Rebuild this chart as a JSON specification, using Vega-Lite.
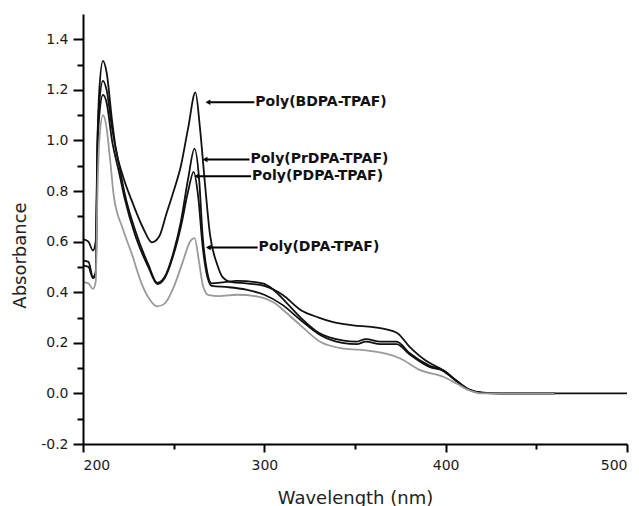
{
  "$schema": "https://vega.github.io/schema/vega-lite/v6.json",
  "autosize": {"type": "none"},
  "padding": {"left": 83, "top": 14, "right": 12, "bottom": 62},
  "width": 544,
  "height": 430,
  "background": "white",
  "config": {
    "view": {"stroke": null},
    "font": "DejaVu Sans",
    "axis": {
      "grid": false,
      "domainColor": "#000",
      "domainWidth": 2,
      "tickColor": "#000",
      "tickWidth": 2,
      "labelFont": "DejaVu Sans",
      "labelFontSize": 14,
      "labelColor": "#1a1a1a",
      "titleFont": "DejaVu Sans",
      "titleFontSize": 18,
      "titleFontWeight": "normal",
      "titleColor": "#222"
    }
  },
  "datasets": {
    "spectra": [
      {"series": "BDPA", "nm": 200, "abs": 0.61},
      {"series": "BDPA", "nm": 203, "abs": 0.6},
      {"series": "BDPA", "nm": 205.5, "abs": 0.565},
      {"series": "BDPA", "nm": 207, "abs": 0.6},
      {"series": "BDPA", "nm": 208, "abs": 1.0},
      {"series": "BDPA", "nm": 209, "abs": 1.2},
      {"series": "BDPA", "nm": 211, "abs": 1.315},
      {"series": "BDPA", "nm": 213, "abs": 1.27},
      {"series": "BDPA", "nm": 216, "abs": 1.08},
      {"series": "BDPA", "nm": 218, "abs": 0.97},
      {"series": "BDPA", "nm": 222, "abs": 0.86},
      {"series": "BDPA", "nm": 227, "abs": 0.76},
      {"series": "BDPA", "nm": 233, "abs": 0.656},
      {"series": "BDPA", "nm": 238, "abs": 0.597},
      {"series": "BDPA", "nm": 242, "abs": 0.62},
      {"series": "BDPA", "nm": 246, "abs": 0.71},
      {"series": "BDPA", "nm": 250, "abs": 0.8},
      {"series": "BDPA", "nm": 254, "abs": 0.9},
      {"series": "BDPA", "nm": 258, "abs": 1.05},
      {"series": "BDPA", "nm": 262, "abs": 1.19},
      {"series": "BDPA", "nm": 264.5, "abs": 1.05},
      {"series": "BDPA", "nm": 267, "abs": 0.85},
      {"series": "BDPA", "nm": 270, "abs": 0.63},
      {"series": "BDPA", "nm": 274, "abs": 0.51},
      {"series": "BDPA", "nm": 277, "abs": 0.46},
      {"series": "BDPA", "nm": 282, "abs": 0.44},
      {"series": "BDPA", "nm": 290, "abs": 0.435},
      {"series": "BDPA", "nm": 300, "abs": 0.425},
      {"series": "BDPA", "nm": 310, "abs": 0.39},
      {"series": "BDPA", "nm": 320, "abs": 0.33},
      {"series": "BDPA", "nm": 330, "abs": 0.3},
      {"series": "BDPA", "nm": 338, "abs": 0.282},
      {"series": "BDPA", "nm": 349, "abs": 0.269},
      {"series": "BDPA", "nm": 360, "abs": 0.262},
      {"series": "BDPA", "nm": 373, "abs": 0.24},
      {"series": "BDPA", "nm": 380, "abs": 0.185},
      {"series": "BDPA", "nm": 389, "abs": 0.13},
      {"series": "BDPA", "nm": 397, "abs": 0.098},
      {"series": "BDPA", "nm": 406, "abs": 0.05},
      {"series": "BDPA", "nm": 413, "abs": 0.015},
      {"series": "BDPA", "nm": 420, "abs": 0.003},
      {"series": "BDPA", "nm": 430, "abs": 0},
      {"series": "BDPA", "nm": 500, "abs": 0},

      {"series": "PrDPA", "nm": 200, "abs": 0.525},
      {"series": "PrDPA", "nm": 203, "abs": 0.52},
      {"series": "PrDPA", "nm": 205.5, "abs": 0.46},
      {"series": "PrDPA", "nm": 207, "abs": 0.48},
      {"series": "PrDPA", "nm": 208, "abs": 1.0},
      {"series": "PrDPA", "nm": 209, "abs": 1.15},
      {"series": "PrDPA", "nm": 211, "abs": 1.236},
      {"series": "PrDPA", "nm": 213, "abs": 1.2},
      {"series": "PrDPA", "nm": 216, "abs": 1.05},
      {"series": "PrDPA", "nm": 220, "abs": 0.9},
      {"series": "PrDPA", "nm": 223, "abs": 0.79},
      {"series": "PrDPA", "nm": 229, "abs": 0.64},
      {"series": "PrDPA", "nm": 236, "abs": 0.51},
      {"series": "PrDPA", "nm": 241, "abs": 0.437},
      {"series": "PrDPA", "nm": 245, "abs": 0.46},
      {"series": "PrDPA", "nm": 250, "abs": 0.56},
      {"series": "PrDPA", "nm": 254, "abs": 0.68},
      {"series": "PrDPA", "nm": 258, "abs": 0.85},
      {"series": "PrDPA", "nm": 261.5, "abs": 0.968},
      {"series": "PrDPA", "nm": 264, "abs": 0.85},
      {"series": "PrDPA", "nm": 266, "abs": 0.62},
      {"series": "PrDPA", "nm": 268, "abs": 0.5},
      {"series": "PrDPA", "nm": 271, "abs": 0.435},
      {"series": "PrDPA", "nm": 278, "abs": 0.44},
      {"series": "PrDPA", "nm": 285, "abs": 0.445},
      {"series": "PrDPA", "nm": 295, "abs": 0.44},
      {"series": "PrDPA", "nm": 300, "abs": 0.433},
      {"series": "PrDPA", "nm": 305, "abs": 0.41},
      {"series": "PrDPA", "nm": 312, "abs": 0.36},
      {"series": "PrDPA", "nm": 320, "abs": 0.3},
      {"series": "PrDPA", "nm": 330, "abs": 0.24},
      {"series": "PrDPA", "nm": 343, "abs": 0.21},
      {"series": "PrDPA", "nm": 351, "abs": 0.205},
      {"series": "PrDPA", "nm": 356, "abs": 0.215},
      {"series": "PrDPA", "nm": 364, "abs": 0.205},
      {"series": "PrDPA", "nm": 373, "abs": 0.205},
      {"series": "PrDPA", "nm": 380, "abs": 0.16},
      {"series": "PrDPA", "nm": 391, "abs": 0.11},
      {"series": "PrDPA", "nm": 399, "abs": 0.09},
      {"series": "PrDPA", "nm": 406, "abs": 0.05},
      {"series": "PrDPA", "nm": 413, "abs": 0.015},
      {"series": "PrDPA", "nm": 420, "abs": 0.003},
      {"series": "PrDPA", "nm": 430, "abs": 0},
      {"series": "PrDPA", "nm": 460, "abs": 0},

      {"series": "PDPA", "nm": 200, "abs": 0.505},
      {"series": "PDPA", "nm": 203, "abs": 0.5},
      {"series": "PDPA", "nm": 205.5, "abs": 0.455},
      {"series": "PDPA", "nm": 207, "abs": 0.47},
      {"series": "PDPA", "nm": 208, "abs": 0.95},
      {"series": "PDPA", "nm": 209, "abs": 1.1},
      {"series": "PDPA", "nm": 211, "abs": 1.18},
      {"series": "PDPA", "nm": 213, "abs": 1.15},
      {"series": "PDPA", "nm": 216, "abs": 1.0},
      {"series": "PDPA", "nm": 220, "abs": 0.87},
      {"series": "PDPA", "nm": 223, "abs": 0.77},
      {"series": "PDPA", "nm": 229, "abs": 0.62},
      {"series": "PDPA", "nm": 236, "abs": 0.5},
      {"series": "PDPA", "nm": 241, "abs": 0.432},
      {"series": "PDPA", "nm": 245, "abs": 0.455},
      {"series": "PDPA", "nm": 250, "abs": 0.55},
      {"series": "PDPA", "nm": 254, "abs": 0.66},
      {"series": "PDPA", "nm": 258, "abs": 0.8},
      {"series": "PDPA", "nm": 261, "abs": 0.876},
      {"series": "PDPA", "nm": 263.5, "abs": 0.78},
      {"series": "PDPA", "nm": 266, "abs": 0.58},
      {"series": "PDPA", "nm": 268, "abs": 0.48},
      {"series": "PDPA", "nm": 271, "abs": 0.425},
      {"series": "PDPA", "nm": 280, "abs": 0.42},
      {"series": "PDPA", "nm": 290, "abs": 0.41},
      {"series": "PDPA", "nm": 300, "abs": 0.39},
      {"series": "PDPA", "nm": 310, "abs": 0.35},
      {"series": "PDPA", "nm": 320, "abs": 0.29},
      {"series": "PDPA", "nm": 331, "abs": 0.23},
      {"series": "PDPA", "nm": 343, "abs": 0.2},
      {"series": "PDPA", "nm": 351, "abs": 0.195},
      {"series": "PDPA", "nm": 356, "abs": 0.205},
      {"series": "PDPA", "nm": 364, "abs": 0.195},
      {"series": "PDPA", "nm": 373, "abs": 0.195},
      {"series": "PDPA", "nm": 380, "abs": 0.155},
      {"series": "PDPA", "nm": 391, "abs": 0.105},
      {"series": "PDPA", "nm": 399, "abs": 0.088},
      {"series": "PDPA", "nm": 406, "abs": 0.048},
      {"series": "PDPA", "nm": 413, "abs": 0.014},
      {"series": "PDPA", "nm": 420, "abs": 0.002},
      {"series": "PDPA", "nm": 430, "abs": 0},
      {"series": "PDPA", "nm": 460, "abs": 0},

      {"series": "DPA", "nm": 200, "abs": 0.44},
      {"series": "DPA", "nm": 203, "abs": 0.435},
      {"series": "DPA", "nm": 205.5, "abs": 0.413},
      {"series": "DPA", "nm": 207, "abs": 0.44},
      {"series": "DPA", "nm": 208, "abs": 0.8},
      {"series": "DPA", "nm": 209, "abs": 1.0},
      {"series": "DPA", "nm": 211, "abs": 1.1},
      {"series": "DPA", "nm": 213, "abs": 1.05},
      {"series": "DPA", "nm": 215, "abs": 0.92},
      {"series": "DPA", "nm": 217, "abs": 0.78},
      {"series": "DPA", "nm": 222, "abs": 0.65},
      {"series": "DPA", "nm": 227, "abs": 0.55},
      {"series": "DPA", "nm": 232, "abs": 0.44},
      {"series": "DPA", "nm": 236, "abs": 0.38},
      {"series": "DPA", "nm": 241, "abs": 0.344},
      {"series": "DPA", "nm": 245, "abs": 0.355},
      {"series": "DPA", "nm": 250, "abs": 0.42},
      {"series": "DPA", "nm": 255, "abs": 0.52},
      {"series": "DPA", "nm": 259, "abs": 0.6},
      {"series": "DPA", "nm": 261.5, "abs": 0.614},
      {"series": "DPA", "nm": 264, "abs": 0.52},
      {"series": "DPA", "nm": 266, "abs": 0.43},
      {"series": "DPA", "nm": 269, "abs": 0.39},
      {"series": "DPA", "nm": 275, "abs": 0.385},
      {"series": "DPA", "nm": 285, "abs": 0.39},
      {"series": "DPA", "nm": 295, "abs": 0.385},
      {"series": "DPA", "nm": 305, "abs": 0.36},
      {"series": "DPA", "nm": 312, "abs": 0.32},
      {"series": "DPA", "nm": 320, "abs": 0.269},
      {"series": "DPA", "nm": 331, "abs": 0.203},
      {"series": "DPA", "nm": 344, "abs": 0.177},
      {"series": "DPA", "nm": 356, "abs": 0.17},
      {"series": "DPA", "nm": 367, "abs": 0.157},
      {"series": "DPA", "nm": 375, "abs": 0.138},
      {"series": "DPA", "nm": 386, "abs": 0.092},
      {"series": "DPA", "nm": 399, "abs": 0.065},
      {"series": "DPA", "nm": 406, "abs": 0.039},
      {"series": "DPA", "nm": 413, "abs": 0.012},
      {"series": "DPA", "nm": 420, "abs": 0},
      {"series": "DPA", "nm": 460, "abs": 0}
    ],
    "labels": [
      {"label": "Poly(BDPA-TPAF)", "head": 268.9, "tail": 294.5, "val": 1.151},
      {"label": "Poly(PrDPA-TPAF)", "head": 267.3, "tail": 291.8, "val": 0.925},
      {"label": "Poly(PDPA-TPAF)", "head": 262.7, "tail": 292.7, "val": 0.859},
      {"label": "Poly(DPA-TPAF)", "head": 269.1, "tail": 296.3, "val": 0.577}
    ]
  },
  "layer": [
    {
      "data": {"name": "spectra"},
      "mark": {"type": "line", "interpolate": "monotone", "strokeWidth": 1.8},
      "encoding": {
        "x": {
          "field": "nm", "type": "quantitative",
          "scale": {"domain": [200, 500], "nice": false, "zero": false},
          "axis": {"values": [200, 300, 400, 500], "domain": true, "tickSize": 8, "labelPadding": 6,
                   "title": "Wavelength (nm)", "titleBaseline": "alphabetic", "titleY": 59, "zindex": 2}
        },
        "y": {
          "field": "abs", "type": "quantitative",
          "scale": {"domain": [-0.2, 1.5], "nice": false, "zero": false},
          "axis": {"values": [-0.2, 0, 0.2, 0.4, 0.6, 0.8, 1.0, 1.2, 1.4], "domain": true, "tickSize": 10, "labelPadding": 5,
                   "labelExpr": "replace(format(datum.value, '.1f'), '\u2212', '-')",
                   "title": "Absorbance", "titleX": -63, "titleY": 241, "titleAlign": "center", "titleBaseline": "middle", "titleAngle": -90, "zindex": 2}
        },
        "color": {
          "field": "series", "type": "nominal",
          "scale": {"domain": ["BDPA", "PrDPA", "PDPA", "DPA"], "range": ["#111111", "#111111", "#111111", "#9a9a9a"]},
          "legend": null
        },
        "order": {"field": "nm", "type": "quantitative"}
      }
    },
    {
      "data": {"name": "labels"},
      "mark": {"type": "rule", "color": "#000", "strokeWidth": 2},
      "encoding": {
        "x": {"field": "head", "type": "quantitative",
              "axis": {"orient": "bottom", "values": [250, 350, 450], "labels": false, "domain": false, "tickSize": 5, "title": null}},
        "x2": {"field": "tail"},
        "y": {"field": "val", "type": "quantitative",
              "axis": {"orient": "left", "values": [-0.1, 0.1, 0.3, 0.5, 0.7, 0.9, 1.1, 1.3], "labels": false, "domain": false, "tickSize": 6, "title": null}}
      }
    },
    {
      "data": {"name": "labels"},
      "mark": {"type": "point", "shape": "triangle-left", "filled": true, "color": "#000", "size": 30, "opacity": 1},
      "encoding": {
        "x": {"field": "head", "type": "quantitative", "axis": null},
        "y": {"field": "val", "type": "quantitative", "axis": null}
      }
    },
    {
      "data": {"name": "labels"},
      "mark": {"type": "text", "align": "left", "baseline": "middle", "dx": 1, "font": "DejaVu Sans", "fontWeight": "bold", "fontSize": 14, "color": "#111"},
      "encoding": {
        "x": {"field": "tail", "type": "quantitative", "axis": null},
        "y": {"field": "val", "type": "quantitative", "axis": null},
        "text": {"field": "label"}
      }
    }
  ],
  "resolve": {"axis": {"x": "independent", "y": "independent"}}
}
